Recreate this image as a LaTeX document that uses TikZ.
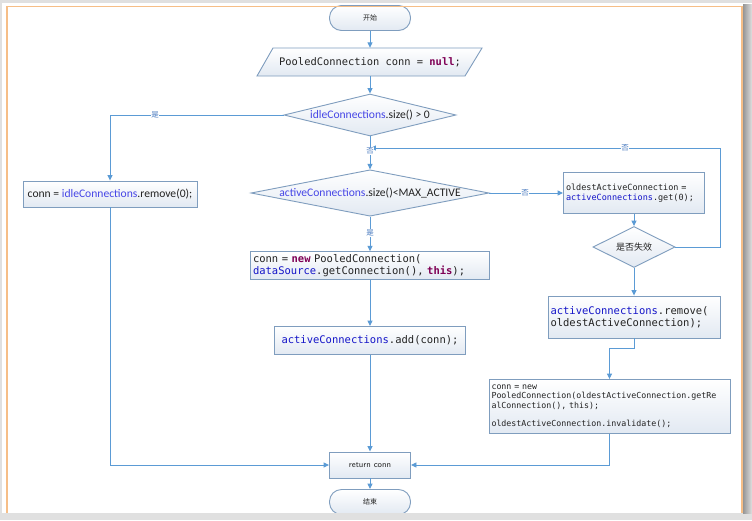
\documentclass[tikz,border=0pt]{standalone}
\usepackage{fontspec}
\setmainfont{Carlito}
\setmonofont{DejaVu Sans Mono}
\newfontfamily\cjk{Noto Sans CJK SC}
\usetikzlibrary{shapes.geometric,arrows.meta}
\definecolor{edge}{RGB}{91,155,213}
\definecolor{bord}{RGB}{127,157,190}
\definecolor{fillb}{RGB}{226,233,242}
\definecolor{kw}{RGB}{127,0,85}
\definecolor{fld}{RGB}{20,20,200}
\definecolor{fldS}{RGB}{70,70,230}
\definecolor{txt}{RGB}{35,35,35}
\definecolor{orng}{RGB}{246,190,135}
\definecolor{graybd}{RGB}{224,224,224}
\definecolor{lblc}{RGB}{70,120,190}
\begin{document}
\begin{tikzpicture}[x=1pt,y=-1pt,
  box/.style={draw=bord, line width=0.9pt, top color=white, bottom color=fillb, text=txt},
  term/.style={box, rounded corners=12pt, minimum width=81pt, minimum height=25pt, inner sep=0pt, font=\cjk\fontsize{7}{8}\selectfont},
  dia/.style={box, diamond, inner sep=0pt, font=\fontsize{11.6}{13}\selectfont},
  code/.style={box, inner sep=2.5pt, align=left, font=\ttfamily\fontsize{10.5}{12.3}\selectfont},
  arr/.style={draw=edge, line width=0.9pt, -{Triangle[length=5.5pt,width=5pt]}},
  lbl/.style={fill=white, inner sep=0.6pt, text=lblc, font=\cjk\fontsize{7.5}{8}\selectfont}]
\useasboundingbox (0,0) rectangle (752,520);
\fill[white] (0,0) rectangle (752,520);

% nodes
\node[term] (start) at (370,18) {开始};
\path[box] (273,48) -- (482,48) -- (465,76) -- (257,76) -- cycle;
\node[inner sep=0pt, minimum width=225pt, minimum height=28pt, text=txt, font=\ttfamily\fontsize{10.4}{12}\selectfont] (init) at (370,62) {PooledConnection conn = \textcolor{kw}{\textbf{null}};};
\node[dia, aspect=4.1, minimum width=172pt, minimum height=42pt] (d1) at (370,115) {\textcolor{fldS}{idleConnections}.size() > 0};
\node[box, minimum width=174pt, minimum height=26pt, inner sep=2pt, font=\fontsize{11.6}{13}\selectfont] (left) at (110,194) {conn = \textcolor{fldS}{idleConnections}.remove(0);};
\node[dia, aspect=5, minimum width=238pt, minimum height=46pt] (d2) at (370,193) {\textcolor{fldS}{activeConnections}.size()<MAX\_ACTIVE};
\node[code, text width=136pt, minimum height=41pt, font=\ttfamily\fontsize{8.5}{9.8}\selectfont] (old) at (634,193) {oldestActiveConnection =\\\textcolor{fld}{activeConnections}.get(0);};
\node[dia, aspect=2, minimum width=82pt, minimum height=41pt, font=\cjk\fontsize{9}{10}\selectfont] (d3) at (634,247) {是否失效};
\node[code, text width=167pt, minimum height=42pt] (rem) at (634,317) {\textcolor{fld}{activeConnections}.remove(\\oldestActiveConnection);};
\node[code, text width=236pt, minimum height=54pt, font=\ttfamily\fontsize{8.3}{9.3}\selectfont] (box4) at (609.5,406.5) {conn = new\\PooledConnection(oldestActiveConnection.getRe\\alConnection(), this);\\[9.3pt]oldestActiveConnection.invalidate();};
\node[code, text width=234pt, minimum height=27pt] (newc) at (370,265.5) {conn = \textcolor{kw}{\textbf{new}} PooledConnection(\\\textcolor{fld}{dataSource}.getConnection(), \textcolor{kw}{\textbf{this}});};
\node[box, minimum width=191pt, minimum height=28pt, inner sep=2pt, font=\ttfamily\fontsize{10.5}{12}\selectfont] (add) at (370,340.5) {\textcolor{fld}{activeConnections}.add(conn);};
\node[box, minimum width=81pt, minimum height=26pt, inner sep=0pt, font=\sffamily\fontsize{8.5}{10}\selectfont] (ret) at (370,465) {return conn};
\node[term] (end) at (370,502) {结束};
\coordinate (join) at (370,148);

% connectors
\draw[arr] (start) -- (init);
\draw[arr] (init) -- (d1);
\draw[arr] (d1.west) -| (left.north);
\draw[arr] (d1.south) -- (d2.north);
\draw[arr] (d2.east) -- (old.west);
\draw[arr] (old.south) -- (d3.north);
\draw[arr, shorten >=0.4pt] (d3.east) -- (720,247) |- (join);
\draw[arr] (d3.south) -- (rem.north);
\draw[arr] (rem.south) -- ++(0,10) -| (box4.north);
\draw[arr] (d2.south) -- (newc.north);
\draw[arr] (newc.south) -- (add.north);
\draw[arr] (add.south) -- (ret.north);
\draw[arr] (left.south) |- (ret.west);
\draw[arr] (box4.south) |- (ret.east);
\draw[arr] (ret.south) -- (end.north);

% labels
\node[lbl] (l1) at (155,115) {是};
\node[lbl] (l2) at (370,151) {否};
\node[lbl] (l3) at (525,193) {否};
\node[lbl] (l4) at (625,148) {否};
\node[lbl] (l5) at (370,233) {是};

% frame
\fill[graybd] (0,0) rectangle (752,3);
\fill[graybd] (0,0) rectangle (2,520);
\fill[graybd] (0,513) rectangle (752,520);
\shade[left color={rgb,255:red,150;green,150;blue,150}, right color=graybd] (743,4) rectangle (752,513);
\draw[orng, line width=1.8pt] (7,513) -- (7,6.5) -- (742,6.5) -- (742,513);
\end{tikzpicture}
\end{document}
